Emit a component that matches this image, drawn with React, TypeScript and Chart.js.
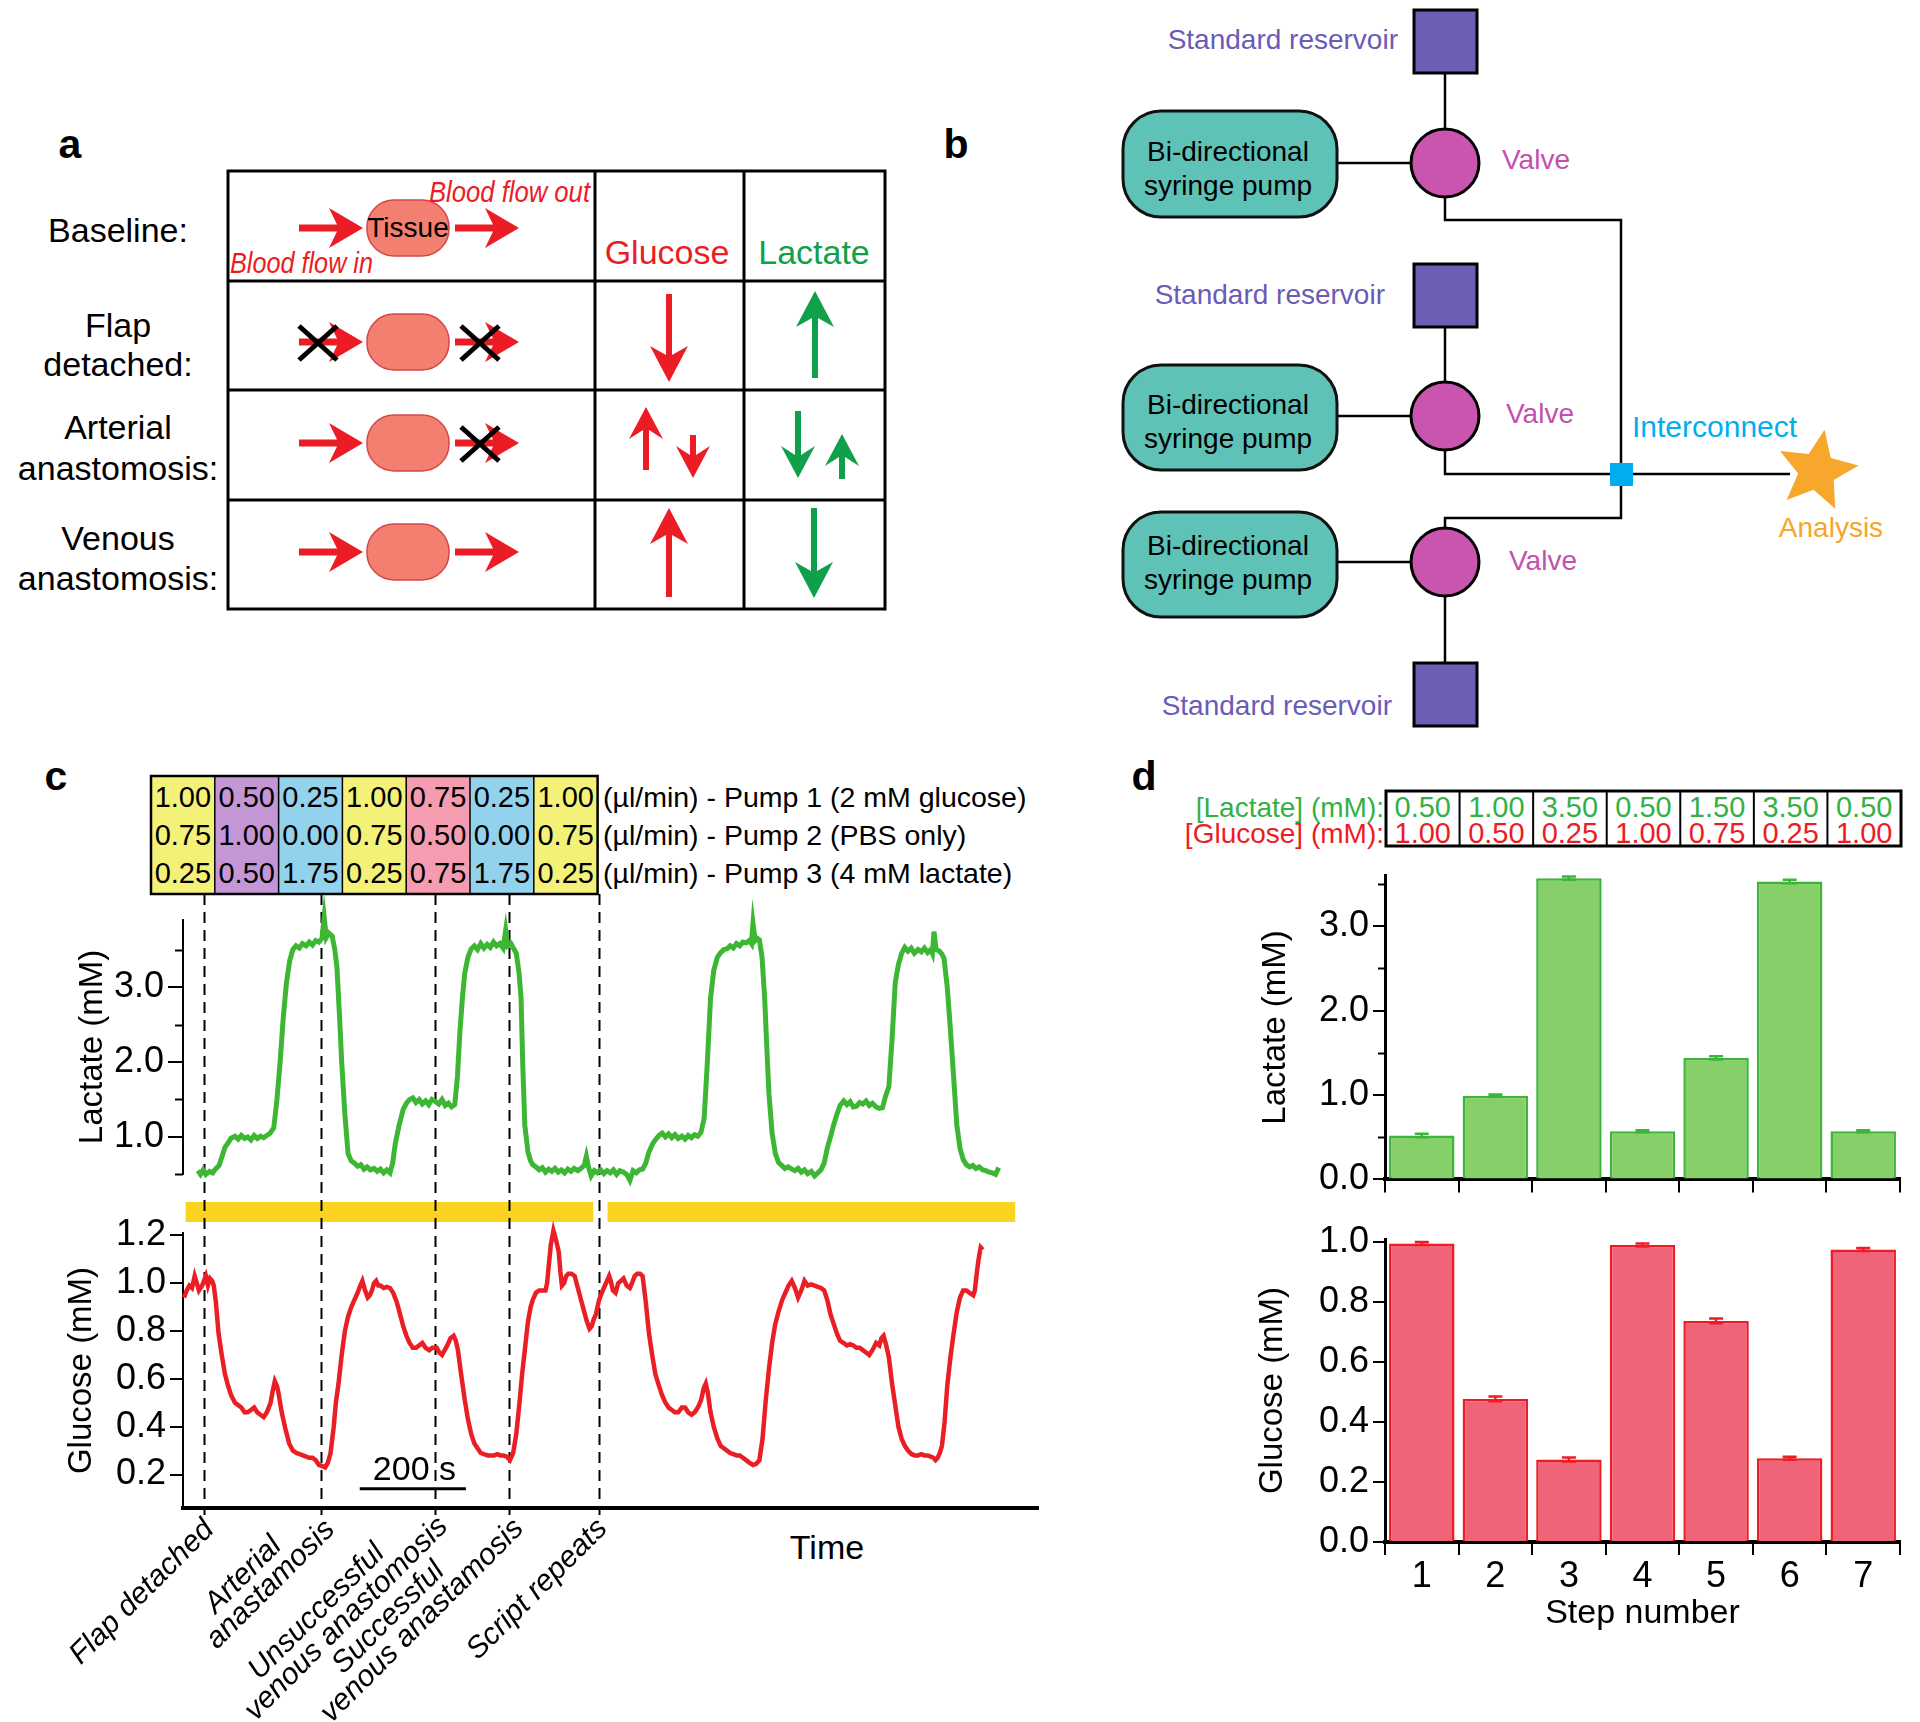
import React, { useEffect, useRef } from 'react';
import { Chart, registerables } from 'chart.js';
Chart.register(...registerables);

const SANS = "'Liberation Sans', Arial, Helvetica, sans-serif";
const NARROW = "'Liberation Sans Narrow', 'Liberation Sans', Arial, sans-serif";

// ---------------- Panel c data ----------------
const eventTimes = [40, 260, 475, 614, 783];
const eventLabels = [["Flap detached"], ["Arterial", "anastamosis"], ["Unsuccessful", "venous anastomosis"], ["Successful", "venous anastamosis"], ["Script repeats"]];
const scriptBars = [[5, 773], [800, 1568]];
const timeMax = 1611;

const lactateTime = [28,33,38,43,50,56,61,68,74,79,85,90,98,104,110,116,122,128,134,140,146,152,158,164,171,177,183,189,195,201,207,213,219,225,232,238,244,250,256,262,266,270,275,281,286,290,295,299,305,311,317,323,329,335,341,347,353,360,366,372,378,384,390,395,400,407,415,421,427,433,439,445,451,457,463,469,476,482,488,494,500,506,512,517,522,527,531,537,543,549,555,561,567,573,579,585,591,597,603,608,612,618,624,628,633,637,640,644,650,655,659,665,671,677,683,689,695,701,707,713,719,725,731,737,744,750,756,760,764,769,775,781,787,793,799,805,811,817,823,830,836,842,848,854,860,866,872,878,885,891,897,903,909,915,921,927,933,940,946,952,958,964,970,976,982,988,994,1000,1007,1013,1019,1025,1031,1037,1043,1049,1055,1061,1067,1071,1074,1078,1082,1086,1091,1096,1100,1104,1110,1116,1122,1128,1134,1140,1147,1153,1159,1165,1171,1177,1184,1190,1196,1202,1208,1214,1220,1226,1232,1238,1245,1251,1257,1263,1269,1275,1281,1287,1293,1299,1306,1312,1318,1324,1330,1336,1342,1348,1354,1360,1366,1372,1378,1385,1391,1397,1403,1409,1412,1415,1419,1425,1430,1434,1440,1446,1452,1458,1464,1470,1476,1482,1488,1494,1500,1507,1513,1519,1525,1531,1535,1537];
const lactateValues = [0.55,0.50,0.56,0.50,0.54,0.52,0.57,0.62,0.75,0.86,0.92,0.98,1.01,0.97,1.02,0.98,1.00,0.96,1.02,0.98,1.01,0.99,1.02,1.05,1.12,1.5,2.0,2.6,3.06,3.35,3.50,3.55,3.52,3.58,3.55,3.60,3.56,3.62,3.60,3.65,3.93,3.66,3.72,3.68,3.50,3.27,2.6,2.0,1.3,0.78,0.68,0.65,0.61,0.63,0.57,0.60,0.56,0.58,0.54,0.57,0.52,0.56,0.52,0.65,0.91,1.15,1.37,1.45,1.50,1.52,1.46,1.50,1.44,1.48,1.43,1.50,1.47,1.44,1.50,1.42,1.45,1.40,1.43,1.8,2.43,2.9,3.19,3.40,3.51,3.55,3.50,3.58,3.52,3.57,3.53,3.60,3.55,3.58,3.52,3.76,3.55,3.58,3.50,3.45,3.2,2.85,2.0,1.16,0.80,0.68,0.63,0.60,0.56,0.59,0.53,0.57,0.54,0.58,0.53,0.56,0.52,0.57,0.54,0.58,0.55,0.58,0.62,0.74,0.60,0.48,0.55,0.52,0.56,0.51,0.55,0.52,0.56,0.50,0.55,0.53,0.50,0.42,0.55,0.52,0.56,0.57,0.65,0.80,0.91,0.97,1.02,1.05,1.00,1.04,0.99,1.03,0.98,1.01,0.97,1.02,0.99,1.03,1.01,1.06,1.25,2.0,2.85,3.22,3.40,3.46,3.50,3.51,3.55,3.52,3.58,3.55,3.60,3.59,3.62,3.58,3.85,3.62,3.65,3.63,3.40,2.85,2.2,1.58,1.05,0.78,0.66,0.62,0.58,0.60,0.57,0.55,0.58,0.53,0.56,0.51,0.54,0.48,0.52,0.56,0.65,0.85,1.00,1.16,1.30,1.42,1.48,1.43,1.47,1.40,1.41,1.46,1.44,1.48,1.42,1.45,1.40,1.38,1.39,1.55,1.67,2.3,3.06,3.30,3.45,3.53,3.48,3.52,3.45,3.50,3.47,3.52,3.46,3.50,3.45,3.74,3.50,3.48,3.44,3.38,3.0,2.43,1.8,1.16,0.85,0.70,0.63,0.60,0.62,0.58,0.60,0.56,0.55,0.53,0.52,0.50,0.56,0.59];

const glucoseTime = [2,7,12,17,22,26,30,36,43,47,51,55,58,62,67,73,79,85,91,98,104,110,116,122,128,134,140,146,152,158,165,169,173,177,180,186,193,200,207,214,220,226,232,238,244,250,256,262,268,273,278,284,288,293,299,305,311,317,323,329,334,338,343,348,352,356,360,364,368,372,378,384,390,396,403,409,415,421,427,433,439,445,451,457,464,470,478,483,488,493,498,504,510,514,518,524,531,537,543,549,555,561,567,574,580,586,592,598,604,610,616,622,628,634,639,644,650,655,659,665,671,677,683,686,689,693,698,703,708,711,714,718,722,726,732,738,744,750,756,761,766,770,774,778,784,791,797,803,806,810,815,820,825,830,836,842,846,851,856,861,866,872,878,884,890,897,903,909,915,921,927,933,940,946,952,958,964,970,976,981,985,989,994,1000,1007,1013,1019,1025,1031,1037,1043,1049,1055,1061,1067,1074,1080,1086,1092,1098,1104,1110,1116,1122,1129,1135,1141,1147,1153,1159,1165,1171,1177,1184,1190,1196,1202,1208,1214,1220,1226,1232,1238,1245,1251,1257,1263,1269,1275,1281,1287,1293,1299,1306,1312,1316,1320,1325,1330,1336,1342,1348,1354,1360,1366,1373,1379,1385,1391,1397,1403,1409,1414,1418,1422,1426,1430,1435,1440,1446,1452,1458,1464,1470,1476,1482,1489,1492,1495,1499,1503,1507];
const glucoseValues = [0.94,0.97,0.99,0.98,1.03,1.00,0.97,0.99,1.03,0.99,1.02,1.01,0.99,0.92,0.79,0.70,0.62,0.57,0.53,0.50,0.49,0.48,0.46,0.46,0.47,0.48,0.46,0.45,0.44,0.46,0.50,0.55,0.59,0.57,0.54,0.46,0.39,0.33,0.30,0.29,0.285,0.28,0.275,0.27,0.27,0.26,0.24,0.235,0.23,0.25,0.29,0.40,0.50,0.58,0.70,0.80,0.86,0.90,0.93,0.96,0.99,1.01,0.97,0.94,0.95,0.97,1.00,1.01,0.99,0.99,0.98,0.985,0.98,0.96,0.92,0.87,0.82,0.78,0.75,0.73,0.73,0.74,0.75,0.73,0.72,0.73,0.73,0.71,0.70,0.72,0.74,0.77,0.78,0.76,0.72,0.62,0.51,0.43,0.37,0.33,0.31,0.29,0.285,0.28,0.28,0.28,0.285,0.28,0.28,0.275,0.26,0.29,0.37,0.50,0.62,0.72,0.84,0.90,0.93,0.96,0.97,0.97,0.97,1.00,1.07,1.16,1.22,1.18,1.13,1.05,0.99,1.00,1.03,1.04,1.04,1.03,0.98,0.93,0.88,0.84,0.81,0.82,0.85,0.87,0.93,0.97,1.00,1.03,1.01,0.97,0.96,1.00,1.01,1.02,0.99,0.98,1.00,1.03,1.04,1.04,1.03,0.92,0.79,0.70,0.62,0.57,0.53,0.50,0.48,0.47,0.46,0.46,0.48,0.48,0.46,0.45,0.46,0.48,0.51,0.56,0.58,0.54,0.46,0.40,0.35,0.32,0.31,0.30,0.29,0.285,0.28,0.28,0.27,0.26,0.25,0.24,0.245,0.26,0.35,0.51,0.64,0.75,0.83,0.88,0.93,0.96,0.99,1.01,0.98,0.94,0.97,1.01,0.99,0.995,0.99,0.985,0.98,0.97,0.93,0.87,0.83,0.79,0.76,0.75,0.74,0.745,0.74,0.73,0.73,0.72,0.71,0.70,0.72,0.75,0.74,0.77,0.78,0.74,0.69,0.58,0.49,0.40,0.35,0.32,0.30,0.285,0.28,0.28,0.285,0.28,0.28,0.275,0.27,0.26,0.27,0.29,0.32,0.42,0.57,0.69,0.79,0.88,0.94,0.97,0.97,0.96,0.95,0.97,1.03,1.10,1.15,1.14];

const pump1 = ["1.00", "0.50", "0.25", "1.00", "0.75", "0.25", "1.00"];
const pump2 = ["0.75", "1.00", "0.00", "0.75", "0.50", "0.00", "0.75"];
const pump3 = ["0.25", "0.50", "1.75", "0.25", "0.75", "1.75", "0.25"];
const pumpColors = ["#F4F178", "#C596D5", "#93D2EC", "#F4F178", "#F59CB0", "#93D2EC", "#F4F178"];
const pumpLabels = ["(µl/min) - Pump 1 (2 mM glucose)", "(µl/min) - Pump 2 (PBS only)", "(µl/min) - Pump 3 (4 mM lactate)"];

// ---------------- Panel d data ----------------
const steps = ["1", "2", "3", "4", "5", "6", "7"];
const targetLactate = ["0.50", "1.00", "3.50", "0.50", "1.50", "3.50", "0.50"];
const targetGlucose = ["1.00", "0.50", "0.25", "1.00", "0.75", "0.25", "1.00"];
const lactateMeans = [0.52, 0.99, 3.57, 0.57, 1.44, 3.53, 0.57];
const lactateErr = [0.02, 0.015, 0.02, 0.012, 0.02, 0.02, 0.012];
const glucoseMeans = [0.995, 0.477, 0.275, 0.99, 0.737, 0.279, 0.975];
const glucoseErr = [0.005, 0.008, 0.007, 0.005, 0.008, 0.005, 0.005];

// label placement nudges (layout only, px)
const labelNudgeX = [11, 15, 14, 16, 10];
const labelNudgeY = [23, 23, 20, 22, 22];

const BLACK = '#000';
const CLEAR = 'rgba(0,0,0,0)';
const isInt = (v: number) => Math.abs(v - Math.round(v)) < 1e-6;

function ChartBox({ left, top, width, height, make }: any) {
  const ref = useRef<HTMLCanvasElement>(null);
  useEffect(() => {
    const chart = new Chart(ref.current as HTMLCanvasElement, make());
    return () => chart.destroy();
  }, []);
  return (
    <div style={{ position: 'absolute', left, top, width, height }}>
      <canvas ref={ref} width={width} height={height} style={{ width, height, display: 'block' }} />
    </div>
  );
}

const yTickFont = { family: SANS, size: 36 };
const titleFont = { family: SANS, size: 33 };

// short minor ticks for non-integer tick values
const minorTicks = (len: number) => ({
  id: 'minorTicks',
  afterDraw(chart: any) {
    const ys = chart.scales.y;
    const { ctx } = chart;
    ctx.save();
    ctx.strokeStyle = BLACK;
    ctx.lineWidth = 2;
    ys.ticks.forEach((t: any) => {
      if (isInt(t.value)) return;
      const y = Math.round(ys.getPixelForValue(t.value)) + 0.5;
      ctx.beginPath();
      ctx.moveTo(ys.right - len, y);
      ctx.lineTo(ys.right, y);
      ctx.stroke();
    });
    ctx.restore();
  },
});

function drawEventLines(chart: any, yEnd: number) {
  const { ctx } = chart;
  const xs = chart.scales.x;
  ctx.save();
  ctx.strokeStyle = BLACK;
  ctx.lineWidth = 2;
  ctx.setLineDash([11, 7]);
  eventTimes.forEach((t) => {
    const x = Math.round(xs.getPixelForValue(t)) + 0.5;
    ctx.beginPath();
    ctx.moveTo(x, 0);
    ctx.lineTo(x, yEnd);
    ctx.stroke();
  });
  ctx.restore();
}

function makeLactateLine() {
  return {
    type: 'line',
    data: {
      datasets: [{
        data: lactateTime.map((t, i) => ({ x: t, y: lactateValues[i] })),
        borderColor: '#3DB634', borderWidth: 5, pointRadius: 0, tension: 0, clip: false,
      }],
    },
    options: {
      animation: false, responsive: false, events: [],
      layout: { padding: { left: 69, right: 22, top: 23, bottom: 14.5 } },
      plugins: { legend: { display: false }, tooltip: { enabled: false } },
      scales: {
        x: { type: 'linear', display: false, min: 0, max: timeMax },
        y: {
          min: 0.5, max: 3.9,
          afterFit: (s: any) => { s.width = 114; },
          border: { display: true, color: BLACK, width: 2 },
          grid: { display: true, drawOnChartArea: false, drawTicks: true, tickLength: 15, color: BLACK, lineWidth: 2,
            tickColor: (c: any) => (c.tick && isInt(c.tick.value) ? BLACK : CLEAR) },
          ticks: { stepSize: 0.5, includeBounds: false, autoSkip: false, padding: 4, color: BLACK, font: yTickFont,
            callback: (v: number) => (isInt(v) ? v.toFixed(1) : '') },
          title: { display: true, text: 'Lactate (mM)', color: BLACK, font: titleFont, padding: { top: 4, bottom: 4 } },
        },
      },
    },
    plugins: [{
      id: 'lacEvents',
      beforeDatasetsDraw(chart: any) { drawEventLines(chart, chart.height); },
    }, minorTicks(8)],
  };
}

function makeGlucoseLine() {
  return {
    type: 'line',
    data: {
      datasets: [{
        data: glucoseTime.map((t, i) => ({ x: t, y: glucoseValues[i] })),
        borderColor: '#EA1F25', borderWidth: 4.5, pointRadius: 0, tension: 0, clip: false,
      }],
    },
    options: {
      animation: false, responsive: false, events: [],
      layout: { padding: { left: 58, right: 22, top: 33, bottom: 0 } },
      plugins: { legend: { display: false }, tooltip: { enabled: false } },
      scales: {
        x: {
          type: 'linear', min: 0, max: timeMax,
          afterFit: (s: any) => { s.height = 214; },
          grid: { display: false }, ticks: { display: false },
          border: { display: true, color: BLACK, width: 4 },
        },
        y: {
          min: 0.06, max: 1.21,
          afterFit: (s: any) => { s.width = 125; },
          border: { display: true, color: BLACK, width: 2 },
          grid: { display: true, drawOnChartArea: false, drawTicks: true, tickLength: 13, color: BLACK, lineWidth: 2 },
          ticks: { stepSize: 0.2, includeBounds: false, autoSkip: false, padding: 4, color: BLACK, font: yTickFont,
            callback: (v: number) => v.toFixed(1) },
          title: { display: true, text: 'Glucose (mM)', color: BLACK, font: titleFont, padding: { top: 4, bottom: 4 } },
        },
      },
    },
    plugins: [{
      id: 'gluDecor',
      beforeDatasetsDraw(chart: any) {
        const { ctx, chartArea } = chart;
        const xs = chart.scales.x;
        ctx.save();
        ctx.fillStyle = '#FAD321';
        scriptBars.forEach(([a, b]) => {
          const x1 = xs.getPixelForValue(a);
          const x2 = xs.getPixelForValue(b);
          ctx.fillRect(x1, 2, x2 - x1, 20);
        });
        ctx.restore();
        drawEventLines(chart, chartArea.bottom + 7);
      },
      afterDraw(chart: any) {
        const { ctx, chartArea } = chart;
        const xs = chart.scales.x;
        const ys = chart.scales.y;
        ctx.save();
        // scale bar
        ctx.strokeStyle = BLACK;
        ctx.lineWidth = 3;
        const sy = ys.getPixelForValue(0.14);
        ctx.beginPath();
        ctx.moveTo(xs.getPixelForValue(333), sy);
        ctx.lineTo(xs.getPixelForValue(533), sy);
        ctx.stroke();
        ctx.fillStyle = BLACK;
        ctx.font = `34px ${SANS}`;
        ctx.textAlign = 'center';
        ctx.textBaseline = 'middle';
        ctx.fillText('200 s', xs.getPixelForValue(436), ys.getPixelForValue(0.215));
        // event labels (rotated)
        ctx.font = `italic 30px ${SANS}`;
        eventTimes.forEach((t, i) => {
          const lines = eventLabels[i];
          const ax = xs.getPixelForValue(t) + labelNudgeX[i];
          const ay = chartArea.bottom + labelNudgeY[i];
          ctx.save();
          ctx.translate(ax, ay);
          ctx.rotate(-Math.PI / 4);
          const widths = lines.map((l) => ctx.measureText(l).width);
          const W = Math.max(...widths);
          ctx.textAlign = 'left';
          ctx.textBaseline = 'alphabetic';
          lines.forEach((l, j) => {
            const off = (W - widths[j]) * 0.33;
            ctx.fillText(l, -W + off, -(lines.length - 1 - j) * 26);
          });
          ctx.restore();
        });
        ctx.restore();
      },
    }],
  };
}

function errorBarPlugin(errs: number[], color: string) {
  return {
    id: 'errBars',
    afterDatasetsDraw(chart: any) {
      const { ctx } = chart;
      const meta = chart.getDatasetMeta(0);
      const ys = chart.scales.y;
      const vals = chart.data.datasets[0].data;
      ctx.save();
      ctx.strokeStyle = color;
      ctx.lineWidth = 2.5;
      meta.data.forEach((bar: any, i: number) => {
        const x = bar.x;
        const yt = ys.getPixelForValue(vals[i] + errs[i]);
        const yb = ys.getPixelForValue(vals[i] - errs[i]);
        ctx.beginPath();
        ctx.moveTo(x, yt); ctx.lineTo(x, yb);
        ctx.moveTo(x - 7, yt); ctx.lineTo(x + 7, yt);
        ctx.moveTo(x - 7, yb); ctx.lineTo(x + 7, yb);
        ctx.stroke();
      });
      ctx.restore();
    },
  };
}

function barXScale(showLabels: boolean, height: number) {
  return {
    afterFit: (s: any) => { s.height = height; },
    grid: { display: true, offset: true, drawOnChartArea: false, drawTicks: true, tickLength: 13, color: BLACK, lineWidth: 2 },
    ticks: { display: showLabels, color: BLACK, font: { family: SANS, size: 36 }, padding: 0 },
    border: { display: true, color: BLACK, width: 4 },
    title: showLabels ? { display: true, text: 'Step number', color: BLACK, font: { family: SANS, size: 34 }, padding: { top: 4, bottom: 4 } } : { display: false },
  };
}

function makeLactateBars() {
  return {
    type: 'bar',
    data: {
      labels: steps,
      datasets: [{ data: lactateMeans, backgroundColor: '#86CF69', borderColor: '#3DB53A', borderWidth: 2.5, barPercentage: 0.89, categoryPercentage: 1.0 }],
    },
    options: {
      animation: false, responsive: false, events: [],
      layout: { padding: { left: 52, right: 20, top: 22, bottom: 0 } },
      plugins: { legend: { display: false }, tooltip: { enabled: false } },
      scales: {
        x: barXScale(false, 23),
        y: {
          min: 0, max: 3.6,
          afterFit: (s: any) => { s.width = 133; },
          border: { display: true, color: BLACK, width: 3 },
          grid: { display: true, drawOnChartArea: false, drawTicks: true, tickLength: 12, color: BLACK, lineWidth: 2,
            tickColor: (c: any) => (c.tick && isInt(c.tick.value) ? BLACK : CLEAR) },
          ticks: { stepSize: 0.5, includeBounds: false, autoSkip: false, padding: 4, color: BLACK, font: yTickFont,
            callback: (v: number) => (isInt(v) ? v.toFixed(1) : '') },
          title: { display: true, text: 'Lactate (mM)', color: BLACK, font: titleFont, padding: { top: 4, bottom: 4 } },
        },
      },
    },
    plugins: [errorBarPlugin(lactateErr, '#3DB53A'), minorTicks(7)],
  };
}

function makeGlucoseBars() {
  return {
    type: 'bar',
    data: {
      labels: steps,
      datasets: [{ data: glucoseMeans, backgroundColor: '#F0647A', borderColor: '#EE1C25', borderWidth: 2.5, barPercentage: 0.89, categoryPercentage: 1.0 }],
    },
    options: {
      animation: false, responsive: false, events: [],
      layout: { padding: { left: 49, right: 20, top: 39, bottom: 84 } },
      plugins: { legend: { display: false }, tooltip: { enabled: false } },
      scales: {
        x: barXScale(true, 96),
        y: {
          min: 0, max: 1.01,
          afterFit: (s: any) => { s.width = 136; },
          border: { display: true, color: BLACK, width: 3 },
          grid: { display: true, drawOnChartArea: false, drawTicks: true, tickLength: 12, color: BLACK, lineWidth: 2 },
          ticks: { stepSize: 0.2, includeBounds: false, autoSkip: false, padding: 4, color: BLACK, font: yTickFont,
            callback: (v: number) => v.toFixed(1) },
          title: { display: true, text: 'Glucose (mM)', color: BLACK, font: titleFont, padding: { top: 4, bottom: 4 } },
        },
      },
    },
    plugins: [errorBarPlugin(glucoseErr, '#EE1C25')],
  };
}

// ---------------- SVG helpers ----------------
const RED = '#EC1C24';
const GREEN = '#10A04A';

function hArrow(x0: number, y: number) {
  const d = `M${x0} ${y - 3.5} L${x0 + 38} ${y - 3.5} L${x0 + 30} ${y - 20} L${x0 + 64} ${y} L${x0 + 30} ${y + 20} L${x0 + 38} ${y + 3.5} L${x0} ${y + 3.5} Z`;
  return <path d={d} fill={RED} />;
}

function vArrow(x: number, yTail: number, yTip: number, color: string, headLen = 36, halfW = 19) {
  const s = Math.sign(yTip - yTail);
  const sh = 3;
  const yb = yTip - s * headLen;
  const yn = yTip - s * (headLen - 9);
  const d = `M${x - sh} ${yTail} L${x - sh} ${yn} L${x - halfW} ${yb} L${x} ${yTip} L${x + halfW} ${yb} L${x + sh} ${yn} L${x + sh} ${yTail} Z`;
  return <path d={d} fill={color} />;
}

function xMark(cx: number, cy: number) {
  return (
    <g stroke={BLACK} strokeWidth={5}>
      <line x1={cx - 19} y1={cy - 17} x2={cx + 19} y2={cy + 17} />
      <line x1={cx - 19} y1={cy + 17} x2={cx + 19} y2={cy - 17} />
    </g>
  );
}

function oval(cy: number) {
  return <rect x={367} y={cy - 28} width={82} height={56} rx={27} ry={27} fill="#F27F6F" stroke="#D4474A" strokeWidth={1.5} />;
}

function star(cx: number, cy: number, R: number, r: number, rot: number) {
  const pts: string[] = [];
  for (let i = 0; i < 10; i++) {
    const rad = i % 2 === 0 ? R : r;
    const a = -Math.PI / 2 + (i * Math.PI) / 5 + rot;
    pts.push(`${cx + rad * Math.cos(a)},${cy + rad * Math.sin(a)}`);
  }
  return <polygon points={pts.join(' ')} fill="#F7A72B" />;
}

function PanelA() {
  const rows = [228, 342, 443, 552];
  return (
    <g fontFamily={SANS}>
      <text x={70} y={158} fontSize={41} fontWeight="bold" textAnchor="middle">a</text>
      <g stroke={BLACK} strokeWidth={3} fill="none">
        <rect x={228} y={171} width={657} height={438} />
        <line x1={595} y1={171} x2={595} y2={609} />
        <line x1={744} y1={171} x2={744} y2={609} />
        <line x1={228} y1={281} x2={885} y2={281} />
        <line x1={228} y1={390} x2={885} y2={390} />
        <line x1={228} y1={500} x2={885} y2={500} />
      </g>
      <g fontSize={34} textAnchor="middle" dominantBaseline="central" fill={BLACK}>
        <text x={118} y={230}>Baseline:</text>
        <text x={118} y={325}>Flap</text>
        <text x={118} y={364}>detached:</text>
        <text x={118} y={427}>Arterial</text>
        <text x={118} y={468}>anastomosis:</text>
        <text x={118} y={538}>Venous</text>
        <text x={118} y={578}>anastomosis:</text>
      </g>
      {rows.map((y) => <g key={y}>{oval(y)}{hArrow(299, y)}{hArrow(455, y)}</g>)}
      {xMark(318, 343)}
      {xMark(480, 343)}
      {xMark(480, 444)}
      <text x={408} y={227} fontSize={28} textAnchor="middle" dominantBaseline="central">Tissue</text>
      <text x={429} y={191} fontSize={30} fontStyle="italic" fontFamily={NARROW} fill={RED} dominantBaseline="central" textLength={161} lengthAdjust="spacingAndGlyphs">Blood flow out</text>
      <text x={230} y={262} fontSize={30} fontStyle="italic" fontFamily={NARROW} fill={RED} dominantBaseline="central" textLength={143} lengthAdjust="spacingAndGlyphs">Blood flow in</text>
      <text x={667} y={252} fontSize={34} fill={RED} textAnchor="middle" dominantBaseline="central">Glucose</text>
      <text x={814} y={252} fontSize={34} fill={GREEN} textAnchor="middle" dominantBaseline="central">Lactate</text>
      {vArrow(669, 294, 382, RED)}
      {vArrow(815, 378, 291, GREEN)}
      {vArrow(646, 470, 407, RED, 32, 17)}
      {vArrow(693, 435, 478, RED, 32, 17)}
      {vArrow(798, 411, 478, GREEN, 32, 17)}
      {vArrow(842, 479, 434, GREEN, 32, 17)}
      {vArrow(669, 597, 508, RED)}
      {vArrow(814, 508, 598, GREEN)}
    </g>
  );
}

function PanelB() {
  const pumps = [{ y: 111, h: 106, t1: 151, t2: 185 }, { y: 365, h: 105, t1: 404, t2: 438 }, { y: 512, h: 105, t1: 545, t2: 579 }];
  const valves = [163, 416, 562];
  const resY = [10, 264, 663];
  const purple = '#6A5BB8';
  const magenta = '#C54FAE';
  return (
    <g fontFamily={SANS}>
      <text x={956} y={158} fontSize={41} fontWeight="bold" textAnchor="middle">b</text>
      <g stroke={BLACK} strokeWidth={2.5} fill="none">
        <line x1={1445} y1={73} x2={1445} y2={130} />
        <line x1={1337} y1={163} x2={1411} y2={163} />
        <polyline points="1445,197 1445,220 1621,220 1621,474" />
        <line x1={1445} y1={327} x2={1445} y2={382} />
        <line x1={1337} y1={416} x2={1411} y2={416} />
        <polyline points="1445,450 1445,474 1790,474" />
        <polyline points="1445,528 1445,518 1621,518 1621,474" />
        <line x1={1337} y1={562} x2={1411} y2={562} />
        <line x1={1445} y1={596} x2={1445} y2={663} />
      </g>
      {resY.map((y) => <rect key={y} x={1414} y={y} width={63} height={63} fill="#6C5EB5" stroke={BLACK} strokeWidth={3} />)}
      {pumps.map((p) => (
        <g key={p.y}>
          <rect x={1123} y={p.y} width={214} height={p.h} rx={38} ry={38} fill="#5EC2B6" stroke="#111" strokeWidth={3} />
          <text x={1228} y={p.t1} fontSize={28} textAnchor="middle" dominantBaseline="central">Bi-directional</text>
          <text x={1228} y={p.t2} fontSize={28} textAnchor="middle" dominantBaseline="central">syringe pump</text>
        </g>
      ))}
      {valves.map((y) => <circle key={y} cx={1445} cy={y} r={34} fill="#C955AF" stroke={BLACK} strokeWidth={3} />)}
      <rect x={1610} y={463} width={23} height={23} fill="#00ADEF" />
      {star(1817, 471, 42, 19, 0.18)}
      <g fontSize={28} dominantBaseline="central">
        <text x={1398} y={39} fill={purple} textAnchor="end">Standard reservoir</text>
        <text x={1385} y={294} fill={purple} textAnchor="end">Standard reservoir</text>
        <text x={1392} y={705} fill={purple} textAnchor="end">Standard reservoir</text>
        <text x={1502} y={159} fill={magenta}>Valve</text>
        <text x={1506} y={413} fill={magenta}>Valve</text>
        <text x={1509} y={560} fill={magenta}>Valve</text>
        <text x={1632} y={426} fill="#00AEEF" fontSize={30}>Interconnect</text>
        <text x={1831} y={527} fill="#F5A52A" textAnchor="middle">Analysis</text>
      </g>
    </g>
  );
}

function PanelCTable() {
  const x0 = 151;
  const cw = 63.8;
  const y0 = 776;
  const y1 = 894;
  const rowsY = [797, 835, 873];
  const rows = [pump1, pump2, pump3];
  return (
    <g fontFamily={SANS}>
      <text x={56} y={790} fontSize={41} fontWeight="bold" textAnchor="middle">c</text>
      {pumpColors.map((c, i) => <rect key={i} x={x0 + i * cw} y={y0} width={cw} height={y1 - y0} fill={c} />)}
      <g stroke={BLACK} strokeWidth={1.5}>
        {pumpColors.map((_, i) => i > 0 ? <line key={i} x1={x0 + i * cw} y1={y0} x2={x0 + i * cw} y2={y1} /> : null)}
      </g>
      <rect x={x0} y={y0} width={cw * 7} height={y1 - y0} fill="none" stroke={BLACK} strokeWidth={2.5} />
      {rows.map((r, ri) => r.map((v, ci) => (
        <text key={`${ri}-${ci}`} x={x0 + (ci + 0.5) * cw} y={rowsY[ri]} fontSize={29} textAnchor="middle" dominantBaseline="central">{v}</text>
      )))}
      {pumpLabels.map((l, i) => (
        <text key={l} x={603} y={rowsY[i]} fontSize={28.5} dominantBaseline="central">{l}</text>
      ))}
      <text x={827} y={1547} fontSize={34} textAnchor="middle" dominantBaseline="central">Time</text>
    </g>
  );
}

function PanelDTable() {
  const x0 = 1386;
  const x1 = 1901;
  const cw = (x1 - x0) / 7;
  const y0 = 791;
  const y1 = 846;
  const green = '#34B047';
  const red = '#ED1C24';
  return (
    <g fontFamily={SANS}>
      <text x={1144} y={790} fontSize={41} fontWeight="bold" textAnchor="middle">d</text>
      <text x={1384} y={807} fontSize={28} fill={green} textAnchor="end" dominantBaseline="central">[Lactate] (mM):</text>
      <text x={1384} y={833} fontSize={28} fill={red} textAnchor="end" dominantBaseline="central">[Glucose] (mM):</text>
      <g stroke={BLACK} strokeWidth={2}>
        {steps.map((_, i) => i > 0 ? <line key={i} x1={x0 + i * cw} y1={y0} x2={x0 + i * cw} y2={y1} /> : null)}
      </g>
      <rect x={x0} y={y0} width={x1 - x0} height={y1 - y0} fill="none" stroke={BLACK} strokeWidth={3} />
      {targetLactate.map((v, i) => <text key={`l${i}`} x={x0 + (i + 0.5) * cw} y={807} fontSize={29} fill={green} textAnchor="middle" dominantBaseline="central">{v}</text>)}
      {targetGlucose.map((v, i) => <text key={`g${i}`} x={x0 + (i + 0.5) * cw} y={833} fontSize={29} fill={red} textAnchor="middle" dominantBaseline="central">{v}</text>)}
    </g>
  );
}

export default function App() {
  return (
    <div style={{ position: 'absolute', left: 0, top: 0, width: 1920, height: 1722, background: '#fff', overflow: 'hidden' }}>
      <svg width={1920} height={1722} style={{ position: 'absolute', left: 0, top: 0 }}>
        <PanelA />
        <PanelB />
        <PanelCTable />
        <PanelDTable />
      </svg>
      <ChartBox left={0} top={894} width={1060} height={306} make={makeLactateLine} />
      <ChartBox left={0} top={1200} width={1060} height={522} make={makeGlucoseLine} />
      <ChartBox left={1200} top={850} width={720} height={355} make={makeLactateBars} />
      <ChartBox left={1200} top={1200} width={720} height={522} make={makeGlucoseBars} />
    </div>
  );
}
